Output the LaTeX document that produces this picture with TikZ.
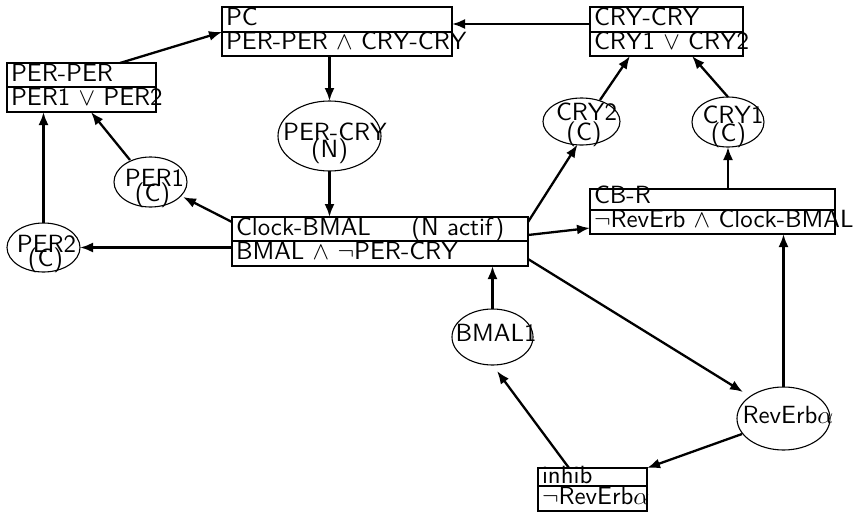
\documentclass[tikz,border=0pt]{standalone}
\usetikzlibrary{shapes.geometric,arrows.meta,calc}

% labels are set at the 10pt design size and enlarged to 24.88pt
\newcommand\lab[1]{\scalebox{2.488}{#1}}

\tikzset{
  txt/.style={inner sep=0pt, outer sep=0pt, font=\sffamily\fontsize{10}{7}\selectfont},
  box/.style={draw, line width=1.2pt, inner sep=0pt, outer sep=0pt, anchor=north west},
  sepline/.style={line width=1.2pt},
  state/.style={draw, ellipse, line width=1.1pt, inner sep=0pt, outer sep=0pt},
  lbl/.style={txt, anchor=base west},
  clbl/.style={txt, anchor=base},
  arc/.style={line width=2.3pt, -{Latex[length=13pt,width=10pt]}},
}

% two-row state box: name, x, y, width, row1 height, row2 height, text1, text2, baseline lift in row 1
\newcommand\statebox[9]{%
  \node[box, minimum width=#4pt, minimum height=#5pt+#6pt] (#1) at (#2,#3) {};
  \draw[sepline] ($(#1.north west)+(0,#5)$) -- ($(#1.north east)+(0,#5)$);
  \node[lbl] (#1-a) at ($(#1.north west)+(4,#5-#9)$) {\lab{#7}};
  \node[lbl] (#1-b) at ($(#1.north west)+(4,#5+#6-6.5)$) {\lab{#8}};
}

\begin{document}
\begin{tikzpicture}[x=1pt,y=-1pt]
\useasboundingbox (0,0) rectangle (857,512);

% formula boxes
\statebox{pc}{222}{7}{230}{25}{24}{PC}{PER-PER $\wedge$ CRY-CRY}{6.5}
\statebox{perper}{7}{63}{149}{24}{25}{PER-PER}{PER1 $\vee$ PER2}{6}
\statebox{clock}{232}{217}{296}{24}{25}{Clock-BMAL\hspace{16.3pt}(N actif)}{BMAL $\wedge$ $\neg$PER-CRY}{5.5}
\statebox{crycry}{590}{7}{153}{25}{24}{CRY-CRY}{CRY1 $\vee$ CRY2}{6.5}
\statebox{cbr}{590}{189}{245}{21}{24}{CB-R}{$\neg$RevErb $\wedge$ Clock-BMAL}{7}
\statebox{inhib}{538}{468}{109}{18}{25}{inhib}{$\neg$RevErb$\alpha$}{3}

% species ellipses
\node[state, minimum width=103pt, minimum height=70pt] (percry) at (329.5,136) {};
\node[clbl] (percry-l1) at ($(percry)+(5.5,4)$) {\lab{PER-CRY}};
\node[clbl] (percry-l2) at ($(percry)+(0,21)$) {\lab{(N)}};

\node[state, minimum width=73pt, minimum height=50pt] (per1) at (150.5,182) {};
\node[clbl] (per1-l1) at ($(per1)+(4,4)$) {\lab{PER1}};
\node[clbl] (per1-l2) at ($(per1)+(2,19)$) {\lab{(C)}};

\node[state, minimum width=73pt, minimum height=49pt] (per2) at (43.5,247.5) {};
\node[clbl] (per2-l1) at ($(per2)+(3,4.5)$) {\lab{PER2}};
\node[clbl] (per2-l2) at ($(per2)+(2,18.5)$) {\lab{(C)}};

\node[state, minimum width=77pt, minimum height=47pt] (cry2) at (581.5,121.5) {};
\node[clbl] (cry2-l1) at ($(cry2)+(5,-1.5)$) {\lab{CRY2}};
\node[clbl] (cry2-l2) at ($(cry2)+(2.5,18.5)$) {\lab{(C)}};

\node[state, minimum width=72pt, minimum height=50pt] (cry1) at (728,122) {};
\node[clbl] (cry1-l1) at ($(cry1)+(5,1)$) {\lab{CRY1}};
\node[clbl] (cry1-l2) at ($(cry1)+(0.5,19)$) {\lab{(C)}};

\node[state, minimum width=81pt, minimum height=56pt] (bmal1) at (492.5,337) {};
\node[clbl] (bmal1-l1) at ($(bmal1)+(3.5,4)$) {\lab{BMAL1}};

\node[state, minimum width=93pt, minimum height=63pt] (reverb) at (783.5,418.5) {};
\node[clbl] (reverb-l1) at ($(reverb)+(4.5,4.5)$) {\lab{RevErb$\alpha$}};

% interactions
\draw[arc] ($(perper.north west)+(113,0)$) -- ($(pc.north west)+(0,25)$);
\draw[arc] ($(crycry.north west)+(0,17)$) -- ($(pc.north east)+(0,17)$);
\draw[arc] (percry |- pc.south) -- (percry.north);
\draw[arc] (percry.south) -- (percry |- clock.north);
\draw[arc] ($(clock.north west)+(0,5)$) -- ($(per1)+(32.5,15)$);
\draw[arc] (clock.west |- per2.east) -- (per2.east);
\draw[arc] ($(per1)+(-20.5,-22)$) -- ($(perper.south west)+(84,0)$);
\draw[arc] (per2.north) -- (per2 |- perper.south);
\draw[arc] ($(clock.north east)+(0,5)$) -- ($(cry2)+(-4,23)$);
\draw[arc] ($(cry2)+(18.5,-21.5)$) -- ($(crycry.south west)+(40,0)$);
\draw[arc] (cry1.north) -- ($(crycry.south west)+(102,0)$);
\draw[arc] (cry1 |- cbr.north) -- (cry1.south);
\draw[arc] ($(clock.north east)+(0,18)$) -- ($(cbr.north west)+(0,39)$);
\draw[arc] (reverb.north) -- (reverb |- cbr.south);
\draw[arc] ($(clock.north east)+(0,42)$) -- ($(reverb)+(-40.5,-26.5)$);
\draw[arc] (bmal1.north) -- (bmal1 |- clock.south);
\draw[arc] ($(reverb)+(-41.5,15.5)$) -- (inhib.north east);
\draw[arc] ($(inhib.north west)+(31,0)$) -- ($(bmal1)+(4.5,34)$);
\end{tikzpicture}
\end{document}
